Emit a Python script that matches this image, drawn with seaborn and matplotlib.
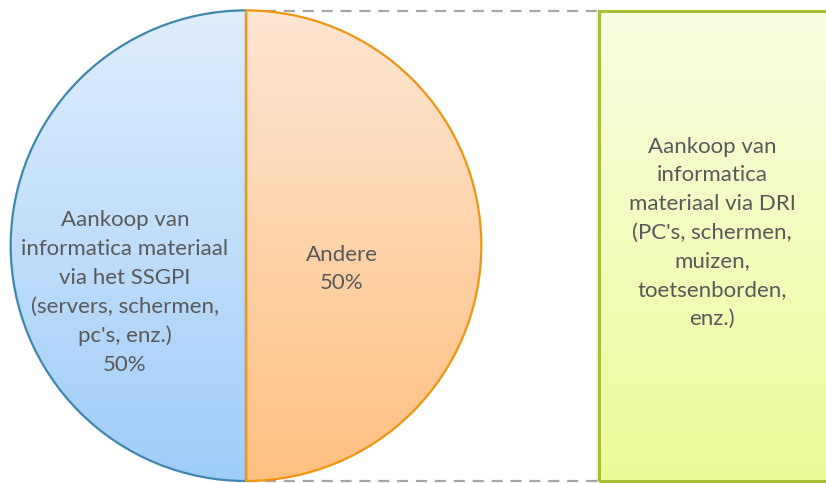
import numpy as np
import matplotlib
matplotlib.use("Agg")
import matplotlib.pyplot as plt
import seaborn as sns

# pie data
pie_labels = ["Aankoop van\ninformatica materiaal\nvia het SSGPI\n(servers, schermen,\npc's, enz.)",
              "Andere"]
pie_values = [50, 50]
# bar of pie (split of "Andere")
bar_labels = ["Aankoop van\ninformatica\nmateriaal via DRI\n(PC's, schermen,\nmuizen,\ntoetsenborden,\nenz.)"]
bar_values = [50]

pie_tops = ["#dfeefd", "#fde6d4"]
pie_bottoms = ["#9fcdf8", "#fec080"]
pie_edges = ["#3f87ad", "#f5940f"]
bar_top, bar_bottom, bar_edge = "#f8fde2", "#eafc98", "#a7bf36"
text_color = "#595959"

sns.set_theme(style="white")
plt.rcParams["font.family"] = ["Lato", "DejaVu Sans"]

W, H = 826, 483
fig = plt.figure(figsize=(W / 100, H / 100), dpi=100)
ax = fig.add_axes([0, 0, 1, 1])

cx, cy, r = 246, H - 245.7, 235.3

wedges, _ = ax.pie(pie_values, center=(cx, cy), radius=r, startangle=90,
                   counterclock=True, wedgeprops=dict(linewidth=1.6))


def gradient(top, bottom):
    cols = sns.blend_palette([top, bottom], n_colors=256)
    return np.array(cols)[:, None, :]


for w, top, bot, ec in zip(wedges, pie_tops, pie_bottoms, pie_edges):
    w.set_facecolor("none")
    w.set_edgecolor(ec)
    w.set_zorder(4)
    img = ax.imshow(gradient(top, bot), extent=[cx - r, cx + r, cy - r, cy + r],
                    aspect="auto", origin="upper", zorder=3)
    img.set_clip_path(w)

fs, ls = 16, 1.54

# pie labels
total = sum(pie_values)
ax.text(125, H - 292.5, pie_labels[0] + "\n%d%%" % round(100 * pie_values[0] / total),
        ha="center", va="center", fontsize=fs, color=text_color, linespacing=ls, zorder=5)
ax.text(342, H - 269, pie_labels[1] + "\n%d%%" % round(100 * pie_values[1] / total),
        ha="center", va="center", fontsize=fs, color=text_color, linespacing=ls, zorder=5)

# bar
bx0, bx1 = 599, 832
by_bottom, by_top = H - 481, H - 10.5
bar_h = (by_top - by_bottom) * bar_values[0] / sum(bar_values)
bars = ax.bar([(bx0 + bx1) / 2], [bar_h], width=bx1 - bx0, bottom=by_bottom,
              facecolor="none", edgecolor=bar_edge, linewidth=2.2, zorder=4)
img = ax.imshow(gradient(bar_top, bar_bottom), extent=[bx0, bx1, by_bottom, by_top],
                aspect="auto", origin="upper", zorder=3)
img.set_clip_path(bars.patches[0])
# soft shadow on bar's left side
for i, a in enumerate([0.10, 0.06, 0.03]):
    ax.plot([bx0 - 1 - i, bx0 - 1 - i], [by_bottom, by_top - 2], color="black",
            alpha=a, lw=1, zorder=2)
ax.text(712, H - 232.5, bar_labels[0], ha="center", va="center", fontsize=fs,
        color=text_color, linespacing=ls, zorder=5)

# connector lines
for y in (by_top, by_bottom):
    ax.plot([cx, bx0], [y, y], color="#a6a6a6", lw=1.6, ls=(0, (5, 3.5)), zorder=1)

ax.set_xlim(0, W)
ax.set_ylim(0, H)
ax.set_aspect("auto")
ax.axis("off")

fig.savefig("out.png", dpi=100)
